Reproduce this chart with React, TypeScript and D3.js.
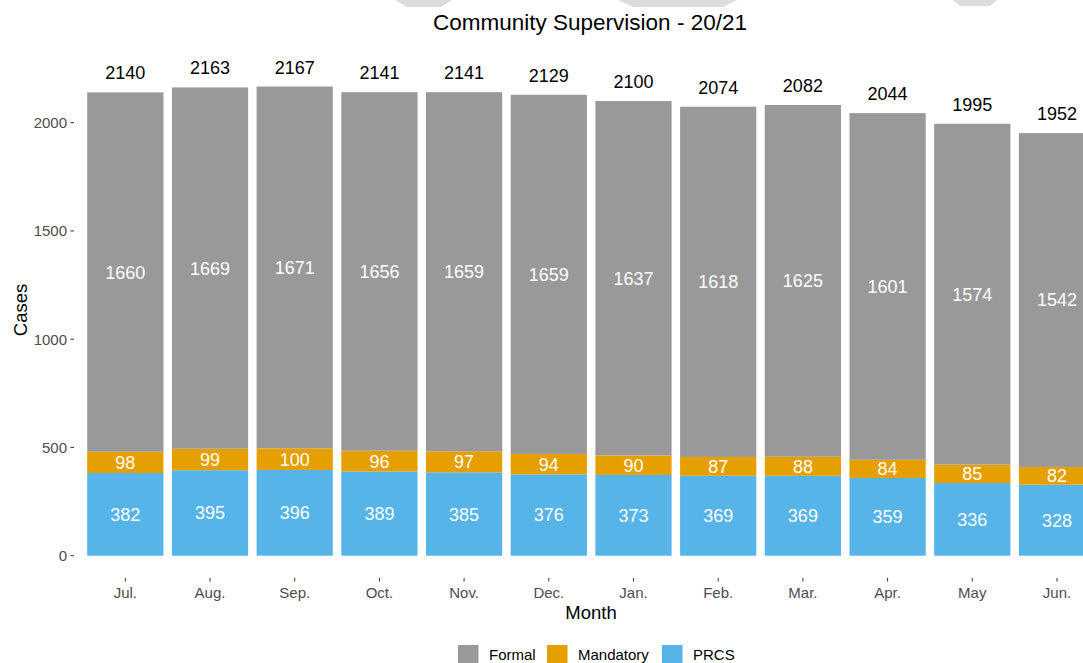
import React from "react";
import * as d3 from "d3";

const months = ["Jul.", "Aug.", "Sep.", "Oct.", "Nov.", "Dec.", "Jan.", "Feb.", "Mar.", "Apr.", "May", "Jun."];
const prcs = [382, 395, 396, 389, 385, 376, 373, 369, 369, 359, 336, 328];
const mandatory = [98, 99, 100, 96, 97, 94, 90, 87, 88, 84, 85, 82];
const formal = [1660, 1669, 1671, 1656, 1659, 1659, 1637, 1618, 1625, 1601, 1574, 1542];
const yTicks = [0, 500, 1000, 1500, 2000];
const seriesNames = ["Formal", "Mandatory", "PRCS"];
const colors: Record<string, string> = { Formal: "#999999", Mandatory: "#E69F00", PRCS: "#56B4E9" };

const W = 1083;
const H = 663;
const FONT = "'Liberation Sans', Arial, sans-serif";

export default function App() {
  const x = d3.scaleBand<string>().domain(months).range([74.5, 1107.8]).paddingInner(0.1).paddingOuter(0.15);
  const y = d3.scaleLinear().domain([0, 2000]).range([555.7, 122.7]);
  const panelBottom = 578;

  const rows = months.map((m, i) => ({ month: m, PRCS: prcs[i], Mandatory: mandatory[i], Formal: formal[i] }));
  const stack = d3.stack<any>().keys(["PRCS", "Mandatory", "Formal"]);
  const layers = stack(rows);

  const legendX = [458, 547, 662];
  const legendTextX = [489, 578, 693];

  return (
    <svg width={W} height={H} style={{ position: "absolute", left: 0, top: 0, background: "#fff" }} fontFamily={FONT}>
      <rect x={0} y={0} width={W} height={H} fill="#fff" />
      {/* decorative shapes at top edge */}
      <path d="M395,0 L452,0 L441,7 L407,7 Z" fill="#dcdcdc" />
      <path d="M618,0 L737,0 L723,7 L633,7 Z" fill="#dcdcdc" />
      <path d="M953,0 L997,0 L990,6 L960,6 Z" fill="#dcdcdc" />

      <text x={590} y={30} textAnchor="middle" fontSize={22.5} fill="#000">Community Supervision - 20/21</text>

      {/* bars */}
      {layers.map((layer) => (
        <g key={layer.key}>
          {layer.map((d, i) => (
            <rect
              key={i}
              x={x(months[i])}
              y={y(d[1])}
              width={x.bandwidth()}
              height={y(d[0]) - y(d[1])}
              fill={colors[layer.key as string]}
            />
          ))}
        </g>
      ))}

      {/* segment labels */}
      {layers.map((layer) => (
        <g key={"l" + layer.key}>
          {layer.map((d, i) => (
            <text
              key={i}
              x={(x(months[i]) as number) + x.bandwidth() / 2}
              y={y((d[0] + d[1]) / 2)}
              dy="0.36em"
              textAnchor="middle"
              fontSize={18}
              fill="#ffffff"
            >
              {d[1] - d[0]}
            </text>
          ))}
        </g>
      ))}

      {/* totals */}
      {rows.map((r, i) => {
        const total = r.PRCS + r.Mandatory + r.Formal;
        return (
          <text key={i} x={(x(r.month) as number) + x.bandwidth() / 2} y={y(total) - 13} textAnchor="middle" fontSize={18} fill="#000">
            {total}
          </text>
        );
      })}

      {/* y axis */}
      {yTicks.map((t) => (
        <g key={t}>
          <line x1={70.5} x2={74} y1={y(t)} y2={y(t)} stroke="#333" strokeWidth={1} />
          <text x={67} y={y(t)} dy="0.36em" textAnchor="end" fontSize={15} fill="#4d4d4d">{t}</text>
        </g>
      ))}

      {/* x axis */}
      {months.map((m) => {
        const cx = (x(m) as number) + x.bandwidth() / 2;
        return (
          <g key={m}>
            <line x1={cx} x2={cx} y1={panelBottom} y2={panelBottom + 3.5} stroke="#333" strokeWidth={1} />
            <text x={cx} y={598} textAnchor="middle" fontSize={15} fill="#4d4d4d">{m}</text>
          </g>
        );
      })}

      <text x={591} y={619} textAnchor="middle" fontSize={18.5} fill="#000">Month</text>
      <text transform="translate(27,310) rotate(-90)" textAnchor="middle" fontSize={18.5} fill="#000">Cases</text>

      {/* legend */}
      {seriesNames.map((s, i) => (
        <g key={s}>
          <rect x={legendX[i]} y={645} width={20.5} height={20.5} fill={colors[s]} />
          <text x={legendTextX[i]} y={660} fontSize={15} fill="#000">{s}</text>
        </g>
      ))}
    </svg>
  );
}
